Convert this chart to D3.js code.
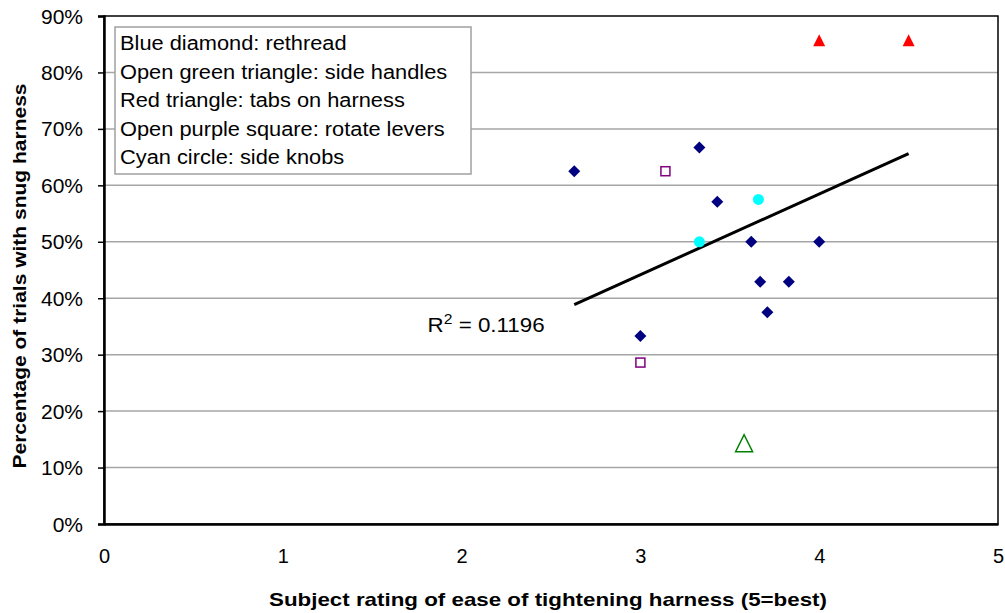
<!DOCTYPE html>
<html lang="en">
  <head>
    <meta charset="UTF-8" />
    <script src="https://d3js.org/d3.v7.min.js"></script>
    <title></title>
    <style>
      body { margin: 0; background: #fff; }
      text { font-family: 'Liberation Sans', Arial, sans-serif; fill: #000; }
    </style>
  </head>
  <body>
    <div id="my_dataviz"></div>
    <script>
      // data: [rating, percent]
      const rethread = [
        [2.63, 62.5], [3.33, 66.7], [3.43, 57.1], [3.62, 50.0], [3.67, 42.9],
        [3.83, 42.9], [3.71, 37.5], [3.0, 33.3], [4.0, 50.0]
      ]
      const sideHandles = [[3.58, 14.3]]
      const tabsOnHarness = [[4.0, 85.7], [4.5, 85.7]]
      const rotateLevers = [[3.14, 62.5], [3.0, 28.6]]
      const sideKnobs = [[3.33, 50.0], [3.66, 57.5]]

      const xTicks = [0, 1, 2, 3, 4, 5]
      const yTicks = [0, 10, 20, 30, 40, 50, 60, 70, 80, 90]
      const legendLines = [
        'Blue diamond: rethread',
        'Open green triangle: side handles',
        'Red triangle: tabs on harness',
        'Open purple square: rotate levers',
        'Cyan circle: side knobs'
      ]
      const r2Label = '0.1196'

      // set the dimensions and margins of the graph
      const margin = { top: 16, right: 7, bottom: 89, left: 104 },
        width = 1005 - margin.left - margin.right,
        height = 613 - margin.top - margin.bottom

      const svg = d3
        .select('#my_dataviz')
        .append('svg')
        .attr('width', 1005)
        .attr('height', 613)
        .append('g')
        .attr('transform', `translate(${margin.left}, ${margin.top})`)

      const x = d3.scaleLinear().domain([0, 5]).range([0, width])
      const y = d3.scaleLinear().domain([0, 90]).range([height, 0])

      // the reference text is a bit wider than Liberation renders it
      const stretch = (sel, k) =>
        sel.each(function () {
          const w = this.getComputedTextLength()
          d3.select(this).attr('textLength', w * k).attr('lengthAdjust', 'spacingAndGlyphs')
        })

      // gridlines
      svg
        .append('g')
        .selectAll('line')
        .data(yTicks.slice(1, -1))
        .join('line')
        .attr('x1', 0)
        .attr('x2', width)
        .attr('y1', d => y(d))
        .attr('y2', d => y(d))
        .attr('stroke', '#a6a6a6')
        .attr('stroke-width', 1.5)

      // plot border
      svg
        .append('rect')
        .attr('width', width)
        .attr('height', height)
        .attr('fill', 'none')
        .attr('stroke', '#000')
        .attr('stroke-width', 1.5)

      // Y axis
      const yAxis = svg
        .append('g')
        .call(d3.axisLeft(y).tickValues(yTicks).tickSize(6).tickFormat(d => d + '%'))
      yAxis.select('.domain').attr('stroke-width', 2.5)
      yAxis.selectAll('.tick line').attr('stroke-width', 1.5)
      yAxis.selectAll('text').style('font-size', '20px').attr('x', -21).attr('dy', '0.35em')
      stretch(yAxis.selectAll('text'), 1.05)

      // X axis
      const xAxis = svg
        .append('g')
        .attr('transform', `translate(0, ${height})`)
        .call(d3.axisBottom(x).tickValues(xTicks).tickSize(0).tickFormat(d3.format('d')))
      xAxis.select('.domain').attr('stroke-width', 2.5)
      xAxis.selectAll('text').style('font-size', '20px').attr('y', 25)

      // axis titles
      const xTitle = svg
        .append('text')
        .attr('x', width / 2 - 3)
        .attr('y', height + 82)
        .attr('text-anchor', 'middle')
        .style('font-size', '19px')
        .style('font-weight', 'bold')
        .text('Subject rating of ease of tightening harness (5=best)')
      xTitle.attr('textLength', 558).attr('lengthAdjust', 'spacingAndGlyphs')

      const yTitle = svg
        .append('text')
        .attr('transform', `translate(${-78}, ${height / 2 + 6}) rotate(-90)`)
        .attr('text-anchor', 'middle')
        .style('font-size', '19px')
        .style('font-weight', 'bold')
        .text('Percentage of trials with snug harness')
      yTitle.attr('textLength', 385).attr('lengthAdjust', 'spacingAndGlyphs')

      // trendline (least squares over all points)
      const all = [].concat(rethread, sideHandles, tabsOnHarness, rotateLevers, sideKnobs)
      const mx = d3.mean(all, d => d[0]),
        my = d3.mean(all, d => d[1])
      const slope =
        d3.sum(all, d => (d[0] - mx) * (d[1] - my)) / d3.sum(all, d => (d[0] - mx) ** 2)
      const icpt = my - slope * mx
      const xr = d3.extent(all, d => d[0])
      svg
        .append('path')
        .datum(xr)
        .attr(
          'd',
          d3
            .line()
            .x(d => x(d))
            .y(d => y(icpt + slope * d))
        )
        .attr('stroke', '#000')
        .style('stroke-width', 3)
        .style('fill', 'none')

      const r2 = svg
        .append('text')
        .attr('x', x(1.81))
        .attr('y', y(34.0))
        .style('font-size', '20px')
      r2.append('tspan').text('R')
      r2.append('tspan').attr('dy', -8).style('font-size', '14px').text('2')
      r2.append('tspan').attr('dy', 8).text(' = ' + r2Label)
      r2.attr('textLength', 117).attr('lengthAdjust', 'spacingAndGlyphs')

      // markers
      const diamond = s => `M0,${-s}L${s},0L0,${s}L${-s},0Z`
      const triangle = s => `M0,${-s}L${s},${s}L${-s},${s}Z`

      svg
        .append('g')
        .selectAll('path')
        .data(rethread)
        .join('path')
        .attr('transform', d => `translate(${x(d[0])}, ${y(d[1])})`)
        .attr('d', diamond(6))
        .attr('fill', '#000080')

      svg
        .append('g')
        .selectAll('rect')
        .data(rotateLevers)
        .join('rect')
        .attr('x', d => x(d[0]) - 4.5)
        .attr('y', d => y(d[1]) - 4.5)
        .attr('width', 9)
        .attr('height', 9)
        .attr('fill', '#fff')
        .attr('stroke', '#800080')
        .attr('stroke-width', 1.5)

      svg
        .append('g')
        .selectAll('circle')
        .data(sideKnobs)
        .join('circle')
        .attr('cx', d => x(d[0]))
        .attr('cy', d => y(d[1]))
        .attr('r', 5.5)
        .style('fill', '#00ffff')

      svg
        .append('g')
        .selectAll('path')
        .data(tabsOnHarness)
        .join('path')
        .attr('transform', d => `translate(${x(d[0])}, ${y(d[1])})`)
        .attr('d', triangle(6))
        .attr('fill', '#ff0000')

      svg
        .append('g')
        .selectAll('path')
        .data(sideHandles)
        .join('path')
        .attr('transform', d => `translate(${x(d[0])}, ${y(d[1])})`)
        .attr('d', triangle(8.5))
        .attr('fill', 'none')
        .attr('stroke', '#008000')
        .attr('stroke-width', 1.5)

      // legend box
      const legend = svg.append('g').attr('transform', `translate(${11}, ${11})`)
      legend
        .append('rect')
        .attr('width', 356)
        .attr('height', 147)
        .attr('fill', '#fff')
        .attr('stroke', '#a0a0a0')
        .attr('stroke-width', 1.5)
      const legendText = legend
        .selectAll('text')
        .data(legendLines)
        .join('text')
        .attr('x', 5)
        .attr('y', (d, i) => 23 + i * 28.6)
        .style('font-size', '20px')
        .text(d => d)
      stretch(legendText, 1.09)
    </script>
  </body>
</html>
